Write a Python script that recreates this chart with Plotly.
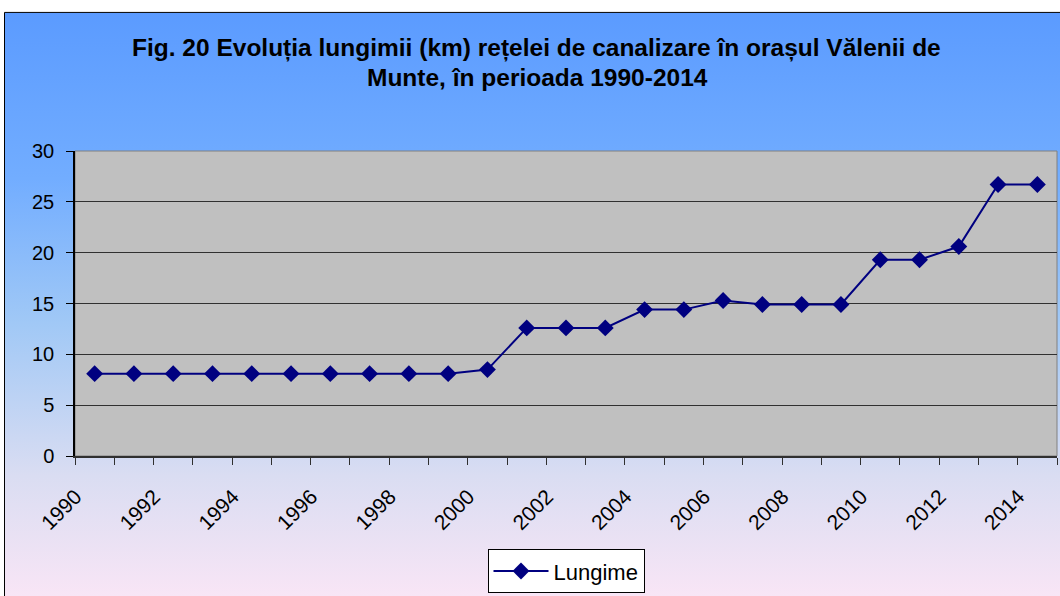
import base64
import plotly.graph_objects as go

years = list(range(1990, 2015))
lungime = [8.1, 8.1, 8.1, 8.1, 8.1, 8.1, 8.1, 8.1, 8.1, 8.1,
           8.5, 12.6, 12.6, 12.6, 14.4, 14.4, 15.3, 14.9, 14.9, 14.9,
           19.3, 19.3, 20.6, 26.7, 26.7]
tick_years = list(range(1990, 2015, 2))
tick_labels = [str(y) for y in tick_years]
series_name = "Lungime"
title_line1 = "Fig. 20 Evoluția lungimii (km) rețelei de canalizare în orașul Vălenii de"
title_line2 = "Munte, în perioada 1990-2014"

# body margin is removed by post_script, so figure px = screen px
OFF = 0
W, H = 1060, 596
plot_left, plot_right, plot_top, plot_bottom = 75, 1057, 151, 458  # screen px
L = plot_left - OFF
T = plot_top - OFF
R = W - (plot_right - OFF)
B = H - (plot_bottom - OFF)
pw = W - L - R
ph = H - T - B

def sx(px):
    return (px - OFF - L) / pw

def sy(py):
    return (H - B - (py - OFF)) / ph

svg = (
    '<svg xmlns="http://www.w3.org/2000/svg" width="100" height="100" preserveAspectRatio="none" viewBox="0 0 100 100">'
    '<defs><linearGradient id="g" x1="0" y1="0" x2="0" y2="1">'
    '<stop offset="0" stop-color="#5B9BFF"/>'
    '<stop offset="0.28" stop-color="#72ADFF"/>'
    '<stop offset="0.52" stop-color="#A0C8F6"/>'
    '<stop offset="0.78" stop-color="#DADDF2"/>'
    '<stop offset="1" stop-color="#FBE6F6"/>'
    '</linearGradient></defs>'
    '<rect x="0" y="0" width="100" height="100" fill="url(#g)"/></svg>'
)
src = "data:image/svg+xml;base64," + base64.b64encode(svg.encode()).decode()

x0 = sx(4.5)
x1 = sx(1075)
y0 = sy(11.5)
y1 = sy(610)

fig = go.Figure()
fig.add_trace(go.Scatter(
    x=years, y=lungime, name=series_name, mode="lines+markers",
    line=dict(color="#000080", width=2),
    marker=dict(symbol="diamond", size=13, color="#000080"),
))

fig.update_layout(
    width=W, height=H,
    margin=dict(l=L, r=R, t=T, b=B),
    paper_bgcolor="white",
    plot_bgcolor="rgba(0,0,0,0)",
    font=dict(family="Liberation Sans, Arial, sans-serif", color="black"),
    showlegend=True,
    legend=dict(
        x=sx(566), y=sy(574), xanchor="center", yanchor="middle",
        bgcolor="white", bordercolor="black", borderwidth=1,
        font=dict(size=22, color="black"),
        itemwidth=55,
    ),
    images=[dict(source=src, xref="paper", yref="paper", x=x0, y=y0,
                 sizex=x1 - x0, sizey=y0 - y1, sizing="stretch",
                 xanchor="left", yanchor="top", layer="below")],
    shapes=[
        dict(type="rect", xref="paper", yref="paper", x0=0, x1=1, y0=0, y1=1,
             fillcolor="#C0C0C0", line=dict(color="#808080", width=1), layer="below"),
        dict(type="rect", xref="paper", yref="paper", x0=x0, x1=x1, y0=y1, y1=y0,
             fillcolor="rgba(0,0,0,0)", line=dict(color="black", width=1), layer="above"),
    ],
    annotations=[
        dict(text="<b>" + title_line1 + "</b>", xref="paper", yref="paper",
             x=sx(536), y=sy(47), xanchor="center", yanchor="middle",
             showarrow=False, font=dict(size=24.5, color="black")),
        dict(text="<b>" + title_line2 + "</b>", xref="paper", yref="paper",
             x=sx(537), y=sy(77), xanchor="center", yanchor="middle",
             showarrow=False, font=dict(size=24.5, color="black")),
    ],
)

fig.update_xaxes(
    range=[1989.5, 2014.5],
    tickmode="array", tickvals=tick_years, ticktext=tick_labels,
    tickangle=-45, ticks="", ticklen=0,
    ticklabelshift=-19, ticklabelstandoff=18,
    tickfont=dict(size=21, color="black"),
    showgrid=False, zeroline=False,
    showline=True, linecolor="#303030", linewidth=2,
    minor=dict(ticks="outside", ticklen=7, tickcolor="#303030", tick0=1989.5, dtick=1, showgrid=False),
)
fig.update_yaxes(
    range=[0, 30], dtick=5, tick0=0,
    ticks="outside", ticklen=7, tickcolor="black",
    ticklabelstandoff=8,
    tickfont=dict(size=20, color="black"),
    showgrid=True, gridcolor="#303030", gridwidth=1,
    zeroline=False, showline=True, linecolor="black", linewidth=1.5,
)

fig.write_html("out.html", config={"displayModeBar": False},
               post_script="document.body.style.margin='0';document.body.style.overflow='hidden';")
